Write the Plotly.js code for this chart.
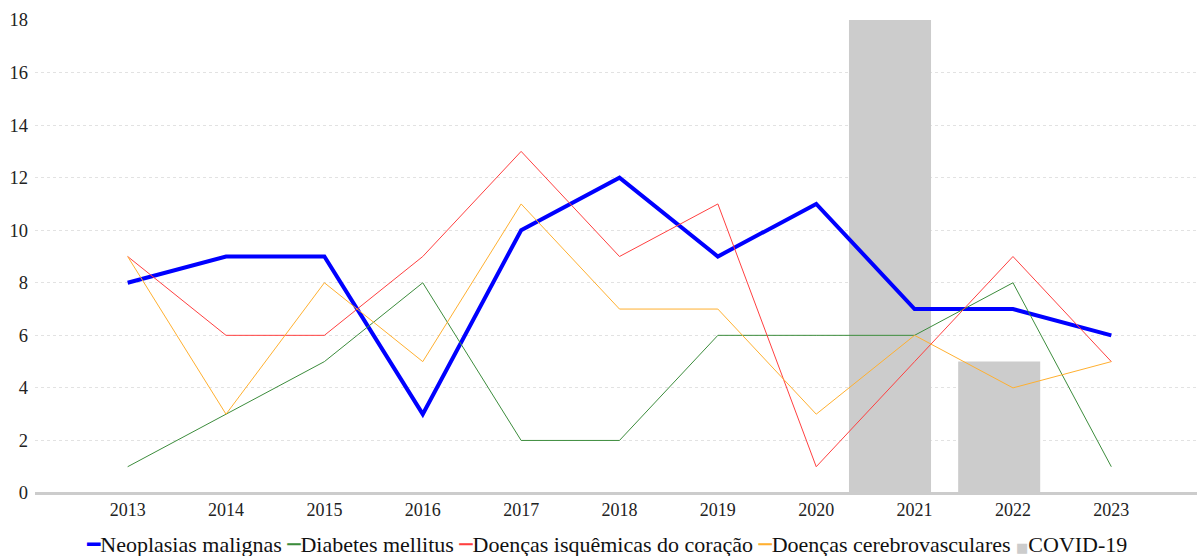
<!DOCTYPE html>
<html>
<head>
<meta charset="utf-8">
<script src="https://cdn.plot.ly/plotly-3.0.1.min.js"></script>
<style>html,body{margin:0;padding:0;background:#fff}#chart{width:1197px;height:556px}</style>
</head>
<body>
<div id="chart"></div>
<script>
const years = [2013, 2014, 2015, 2016, 2017, 2018, 2019, 2020, 2021, 2022, 2023];
const neoplasias = [8, 9, 9, 3, 10, 12, 9, 11, 7, 7, 6];
const diabetes = [1, 3, 5, 8, 2, 2, 6, 6, 6, 8, 1];
const isquemicas = [9, 6, 6, 9, 13, 9, 11, 1, 5, 9, 5];
const cerebro = [9, 3, 8, 5, 11, 7, 7, 3, 6, 4, 5];
const covidX = [2020.75, 2021.86];
const covidValues = [18, 5];
const yTicks = [0, 2, 4, 6, 8, 10, 12, 14, 16, 18];
const seriesNames = ['Neoplasias malignas', 'Diabetes mellitus', 'Doenças isquêmicas do coração', 'Doenças cerebrovasculares', 'COVID-19'];
const seriesColors = ['#0000ff', '#3c8c3c', '#ff4040', '#ffb030', '#cccccc'];

const font = "'Liberation Serif', 'Times New Roman', serif";

const data = [
  {type: 'scatter', mode: 'lines', name: seriesNames[0], x: years, y: neoplasias,
   line: {color: seriesColors[0], width: 4}},
  {type: 'scatter', mode: 'lines', name: seriesNames[1], x: years, y: diabetes,
   line: {color: seriesColors[1], width: 1}},
  {type: 'scatter', mode: 'lines', name: seriesNames[2], x: years, y: isquemicas,
   line: {color: seriesColors[2], width: 1}},
  {type: 'scatter', mode: 'lines', name: seriesNames[3], x: years, y: cerebro,
   line: {color: seriesColors[3], width: 1}},
  {type: 'bar', name: seriesNames[4], x: covidX, y: covidValues, width: 0.834,
   marker: {color: seriesColors[4]}}
];

// legend drawn as one line of rich text (short symbols directly before each label)
const symbols = [
  '<span style="font-family:DejaVu Sans;font-weight:bold">━</span>',
  '<span style="font-family:DejaVu Sans">─</span>',
  '<span style="font-family:DejaVu Sans">─</span>',
  '<span style="font-family:DejaVu Sans">─</span>',
  '<span style="font-family:DejaVu Sans;font-size:13px">■</span>'
];
const legendText = seriesNames.map((n, i) =>
  `<span style="color:${seriesColors[i]}">${symbols[i]}</span>${n}`).join(' ');

const layout = {
  width: 1197, height: 556,
  margin: {l: 35, r: 0, t: 20, b: 63},
  paper_bgcolor: '#ffffff', plot_bgcolor: '#ffffff',
  font: {family: font, size: 18, color: '#222222'},
  showlegend: false,
  annotations: [{
    xref: 'paper', yref: 'paper', x: 0.492, y: -0.108, xanchor: 'center', yanchor: 'middle',
    showarrow: false, text: legendText,
    font: {family: font, size: 22, color: '#111111'}
  }],
  xaxis: {type: 'linear', range: [2012.058, 2023.871], tickvals: years, ticktext: years.map(String),
          showgrid: false, zeroline: false, showline: true, linecolor: '#cccccc', linewidth: 1.5,
          ticks: '', tickfont: {family: font, size: 18, color: '#222222'}, fixedrange: true},
  yaxis: {range: [0, 18], tickvals: yTicks, showgrid: true, gridcolor: '#e2e2e2', griddash: 'dot',
          gridwidth: 1, zeroline: true, zerolinecolor: '#cccccc', zerolinewidth: 1.5,
          ticks: '', ticklabelstandoff: 6, tickfont: {family: font, size: 18.5, color: '#222222'}, fixedrange: true}
};

Plotly.newPlot('chart', data, layout, {displayModeBar: false, staticPlot: true});
</script>
</body>
</html>
